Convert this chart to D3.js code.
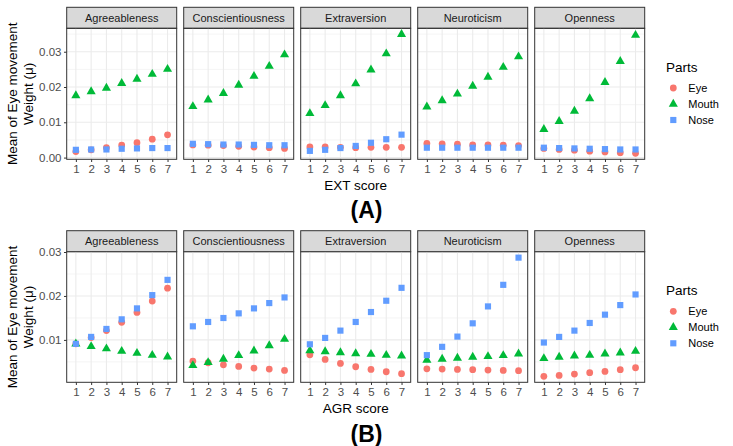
<!DOCTYPE html>
<html><head><meta charset="utf-8">
<script src="https://cdn.jsdelivr.net/npm/d3@7"></script>
<style>body{margin:0;background:#fff} text{font-family:"Liberation Sans",Arial,Helvetica,sans-serif}</style>
</head><body><svg id="c" width="733" height="446"></svg>
<script>
const traits = ["Agreeableness","Conscientiousness","Extraversion","Neuroticism","Openness"];
const scores = [1,2,3,4,5,6,7];
const parts = ["Eye","Mouth","Nose"];
const partColors = ["#F8766D","#00BA38","#619CFF"];
const yTicks = [0, 0.01, 0.02, 0.03];
const yTickLabels = ["0.00","0.01","0.02","0.03"];
const yMinor = [0.005, 0.015, 0.025, 0.035];

// (A) EXT score — one row per trait facet
const extEye = [
  [0.0017,0.0022,0.0028,0.00355,0.0042,0.0052,0.00645],
  [0.0036,0.0035,0.0034,0.0032,0.0030,0.0028,0.0026],
  [0.0030,0.0030,0.0029,0.0028,0.0029,0.0029,0.0029],
  [0.0040,0.0039,0.0038,0.0036,0.0036,0.0035,0.0034],
  [0.0026,0.0023,0.0021,0.0018,0.0016,0.0014,0.0012]
];
const extMouth = [
  [0.01757,0.01869,0.01972,0.02103,0.02224,0.02364,0.02505],
  [0.01449,0.01636,0.01822,0.02056,0.02308,0.02589,0.02916],
  [0.01252,0.01477,0.01757,0.02093,0.02486,0.02944,0.03495],
  [0.01439,0.01617,0.01804,0.02028,0.02280,0.02561,0.0286],
  [0.0080,0.01028,0.01318,0.01673,0.02131,0.02729,0.03467]
];
const extNose = [
  [0.0022,0.0023,0.0023,0.0025,0.0026,0.0027,0.0027],
  [0.0039,0.0038,0.0037,0.0037,0.0036,0.0035,0.0035],
  [0.0019,0.0022,0.0027,0.0033,0.0042,0.0052,0.0065],
  [0.0028,0.0028,0.0028,0.0028,0.0028,0.0028,0.0028],
  [0.0028,0.0027,0.0026,0.0025,0.0024,0.0023,0.0023]
];
// (B) AGR score
const agrEye = [
  [0.0091,0.01053,0.01211,0.0140,0.01626,0.01883,0.02177],
  [0.00517,0.0048,0.00434,0.00396,0.00358,0.00336,0.00306],
  [0.0066,0.00555,0.00464,0.00389,0.00328,0.00275,0.0023],
  [0.00343,0.00336,0.00328,0.00321,0.00313,0.00306,0.00298],
  [0.0017,0.00192,0.00223,0.00253,0.00283,0.00321,0.00366]
];
const agrMouth = [
  [0.0091,0.0085,0.0080,0.00743,0.00698,0.00653,0.00615],
  [0.00419,0.00487,0.00562,0.00645,0.0075,0.00872,0.01015],
  [0.00758,0.00736,0.00713,0.0069,0.00675,0.00653,0.00638],
  [0.0054,0.00562,0.00585,0.00608,0.00623,0.00645,0.00683],
  [0.00577,0.00608,0.00638,0.00653,0.00683,0.00706,0.00743]
];
const agrNose = [
  [0.0091,0.01068,0.01249,0.01468,0.01717,0.02019,0.02366],
  [0.01309,0.01408,0.01498,0.01604,0.01717,0.01838,0.01966],
  [0.0090,0.01045,0.01211,0.01408,0.01634,0.01891,0.02185],
  [0.00653,0.00842,0.01075,0.01377,0.01762,0.02253,0.02872],
  [0.0094,0.01068,0.01211,0.01385,0.01574,0.01792,0.02034]
];

const blocks = [
  {xTitle:"EXT score", tag:"(A)", series:[extEye, extMouth, extNose], stripTop:7.3, panelBottom:159.3, xTitleY:190, tagY:218.3, legendY:71.7},
  {xTitle:"AGR score", tag:"(B)", series:[agrEye, agrMouth, agrNose], stripTop:230.7, panelBottom:382.3, xTitleY:413, tagY:441.5, legendY:295}
];

const svg = d3.select("#c");
const panelLeft0 = 66.7, panelW = 110, panelGap = 7, stripH = 21;
const grid = "#EBEBEB", dark = "#333333", tickTxt = "#4D4D4D";

const symbolGen = [
  d3.symbol().type(d3.symbolCircle).size(36),
  d3.symbol().type(d3.symbolTriangle).size(36),
  d3.symbol().type(d3.symbolSquare).size(38)
];

const x = d3.scaleLinear().domain([0.4, 7.6]).range([0, panelW]);

blocks.forEach(b => {
  const panelTop = b.stripTop + stripH;
  const all = b.series.flat(2);
  const [mn, mx] = d3.extent(all);
  const pad = (mx - mn) * 0.05;
  const y = d3.scaleLinear().domain([mn - pad, mx + pad]).range([b.panelBottom, panelTop]);
  const inDom = v => v >= y.domain()[0] && v <= y.domain()[1];

  traits.forEach((t, i) => {
    const left = panelLeft0 + i * (panelW + panelGap);
    const g = svg.append("g").attr("transform", `translate(${left},0)`);
    // strip
    g.append("rect").attr("x", 0).attr("y", b.stripTop).attr("width", panelW).attr("height", stripH)
      .attr("fill", "#D9D9D9").attr("stroke", dark).attr("stroke-width", 1);
    g.append("text").attr("x", panelW/2).attr("y", b.stripTop + stripH/2).attr("dy", "0.35em")
      .attr("text-anchor", "middle").attr("font-size", 11).attr("fill", "#1A1A1A").text(t);
    // grid
    g.selectAll(".ymin").data(yMinor.filter(inDom)).enter().append("line")
      .attr("x1", 0).attr("x2", panelW).attr("y1", d => y(d)).attr("y2", d => y(d))
      .attr("stroke", grid).attr("stroke-width", 0.55);
    g.selectAll(".ymaj").data(yTicks.filter(inDom)).enter().append("line")
      .attr("x1", 0).attr("x2", panelW).attr("y1", d => y(d)).attr("y2", d => y(d))
      .attr("stroke", grid).attr("stroke-width", 1.1);
    g.selectAll(".xmaj").data(scores).enter().append("line")
      .attr("x1", d => x(d)).attr("x2", d => x(d)).attr("y1", panelTop).attr("y2", b.panelBottom)
      .attr("stroke", grid).attr("stroke-width", 1.1);
    // points
    b.series.forEach((s, p) => {
      g.selectAll(".pt" + p).data(s[i]).enter().append("path")
        .attr("d", symbolGen[p]())
        .attr("transform", (d, k) => `translate(${x(scores[k])},${y(d)})`)
        .attr("fill", partColors[p]);
    });
    // border
    g.append("rect").attr("x", 0).attr("y", panelTop).attr("width", panelW).attr("height", b.panelBottom - panelTop)
      .attr("fill", "none").attr("stroke", dark).attr("stroke-width", 1);
    // x axis
    const xa = g.append("g").attr("transform", `translate(0,${b.panelBottom})`)
      .call(d3.axisBottom(x).tickValues(scores).tickFormat(d3.format("d")).tickSize(2.7).tickPadding(2.5));
    xa.select(".domain").remove();
    xa.selectAll("line").attr("stroke", dark);
    xa.selectAll("text").attr("font-size", 11.5).attr("fill", tickTxt).attr("font-family", null);
  });

  // y axis
  const ya = svg.append("g").attr("transform", `translate(${panelLeft0},0)`)
    .call(d3.axisLeft(y).tickValues(yTicks.filter(inDom))
      .tickFormat(d => yTickLabels[yTicks.indexOf(d)]).tickSize(2.7).tickPadding(2.5));
  ya.select(".domain").remove();
  ya.selectAll("line").attr("stroke", dark);
  ya.selectAll("text").attr("font-size", 11.5).attr("fill", tickTxt).attr("font-family", null);

  // y title
  const cy = (panelTop + b.panelBottom) / 2;
  [["Mean of Eye movement", 17.2], ["Weight (\u03bc)", 33.2]].forEach(([txt, bx]) => {
    svg.append("text").attr("transform", `translate(${bx},${cy}) rotate(-90)`)
      .attr("text-anchor", "middle").attr("font-size", 13.5).attr("fill", "#000").text(txt);
  });

  // x title
  const midX = panelLeft0 + (5 * panelW + 4 * panelGap) / 2;
  svg.append("text").attr("x", midX).attr("y", b.xTitleY).attr("text-anchor", "middle")
    .attr("font-size", 13.5).attr("fill", "#000").text(b.xTitle);

  // tag
  svg.append("text").attr("x", 366.5).attr("y", b.tagY).attr("text-anchor", "middle")
    .attr("font-size", 23).attr("font-weight", "bold").attr("fill", "#000").text(b.tag);

  // legend
  const lg = svg.append("g");
  lg.append("text").attr("x", 666).attr("y", b.legendY).attr("font-size", 13.5).attr("fill", "#000").text("Parts");
  parts.forEach((p, k) => {
    const ky = b.legendY + 16.3 + k * 16;
    lg.append("path").attr("d", symbolGen[k]()).attr("transform", `translate(673.3,${ky})`).attr("fill", partColors[k]);
    lg.append("text").attr("x", 688.3).attr("y", ky).attr("dy", "0.35em").attr("font-size", 11).attr("fill", "#000").text(p);
  });
});
</script>
</body></html>
